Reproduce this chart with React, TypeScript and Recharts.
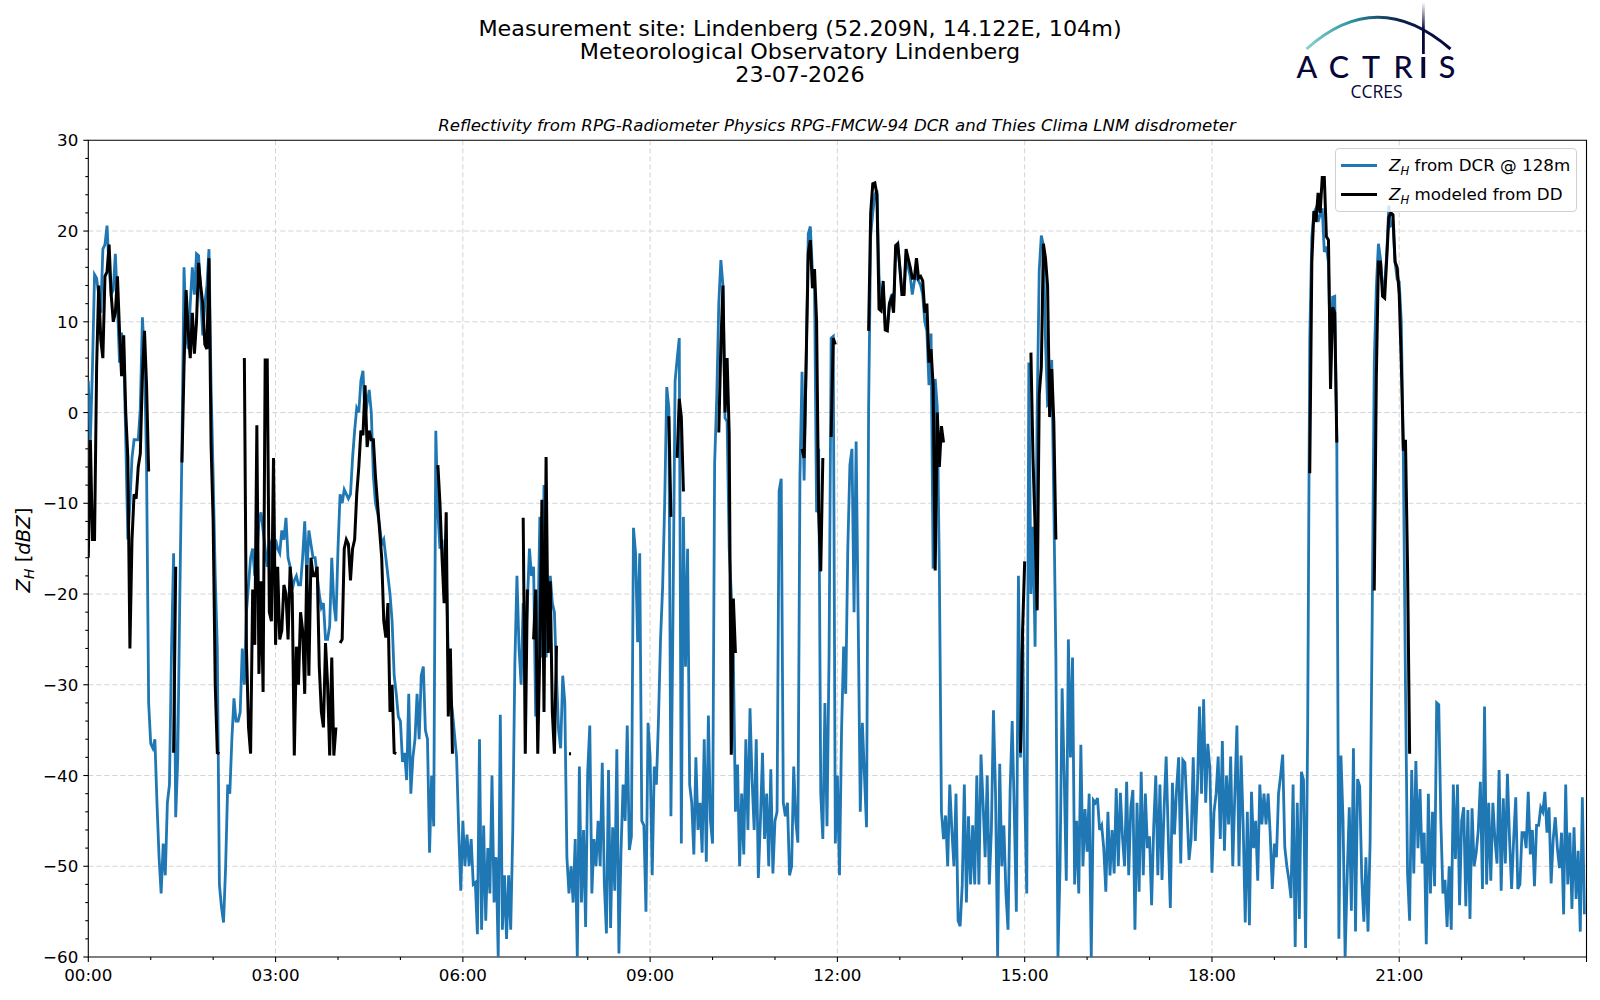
import React from "react";
import { CartesianGrid, Legend, Line, LineChart, ReferenceArea, XAxis, YAxis } from "recharts";

// Z_H from the cloud radar, one list per hour of the day, a value every 2 minutes
const dcr00 = [3.5, -3, 5, 15.2, 14.8, 13, 11, 18, 18.5, 20.6, 16, 13, 13.5, 17.5, 12, 5.5, 8.8, 7, -3, -14, -10, -5, -3, -3, -3, 0.5, 10.5, 6, -6, -32];
const dcr01 = [-36.5, -37, -36, -43, -49, -53, -47.5, -51, -43, -41, -26, -15.5, -44.6, -38, -20, -4, 16, 9, 7, 12, 16, 13, 17.5, 17.3, 13, 8.5, 12, 14, 18, 3];
const dcr02 = [-7, -18, -26, -52, -54.5, -56.2, -50, -41, -42, -36, -31.5, -34, -34, -33, -26, -30, -22, -19, -16, -15, -18, -16, -12, -11, -13, -15, -17, -14, -16, -18];
const dcr03 = [-14, -15, -15.5, -13, -14, -11.6, -16, -17, -19.5, -18.5, -18, -19, -19, -16, -12, -18, -13, -14.5, -16, -16, -18, -20, -21.5, -21, -25, -25, -23.5, -16, -21, -23];
const dcr04 = [-15, -9, -10, -8.5, -9, -9.5, -9, -5, -2, 0.5, 0, 3.5, 4.6, -0.5, 1, 2.5, 0, -7, -10, -11, -12.5, -14.5, -14, -16, -18, -20, -23, -29, -31, -33.5];
const dcr05 = [-34, -38.5, -37.5, -40.5, -31, -42, -38, -36, -31, -36, -29, -28, -35, -36, -48.5, -40, -45.6, -2, -11, -15, -14, -20, -17, -27, -31, -33, -35.5, -38, -46, -52.7];
const dcr06 = [-45, -50, -46.5, -50, -47, -52, -51.8, -57.5, -36, -57, -45.5, -56, -48, -53, -40, -54, -49, -60, -33.3, -57, -51, -58, -51, -57, -46, -27.6, -18, -26, -30, -21];
const dcr07 = [-26, -21, -15, -18, -17, -33.5, -25, -11.5, -27, -8, -27, -20, -18, -21, -22, -29, -35, -37, -29, -32, -49, -53, -50, -54, -47, -60, -39, -54, -46, -56.7];
const dcr08 = [-39.6, -34.5, -53, -47, -50, -45, -50, -38.6, -52, -57.4, -39.4, -56.8, -45.7, -52.7, -37.1, -59.6, -48.4, -41, -45, -34.5, -48.2, -46.7, -12.7, -15.5, -25.3, -15.5, -45, -45.5, -55, -34.2];
const dcr09 = [-38, -51, -39, -41, -34, -25, -19.3, -10, 2.8, 0.5, -44.5, -22, 3.5, 5.9, 8.2, -47.5, -11.5, -28, -15, -41, -43, -48.7, -38, -46, -43, -48.5, -36, -49.5, -33.4, -45];
const dcr10 = [-47.5, -5.6, 1.5, 12, 16.8, 14, -0.6, -1, -15, -20, -27, -44, -38.8, -50, -42, -48.7, -36, -46, -32.6, -40.5, -46, -36, -51.3, -45, -37.5, -47, -42, -50, -39.3, -50.8];
const dcr11 = [-45, -44, -8.6, -7.3, -43, -44.5, -43, -51, -50, -39, -45, -47.4, -7, 4.5, -7.5, 5.5, 19.7, 20.5, 15.5, 14, -11, -4, -42, -47, -32, -45.6, -26.6, 8.2, 8.4, -47.5];
const dcr12 = [-40, -51, -35, -25.8, -31, -15, -5.8, -4, -22, -3.2, -23, -44, -34.2, -40, -45.7, 0.5, 19.5, 22, 24, 24.5, 15, 12, 14, 9.5, 9.5, 12, 13, 11.5, 18, 18.5];
const dcr13 = [16, 13.5, 13, 17.5, 16, 15, 13, 14.5, 15, 14.5, 14, 13, 10, 9, 3, 8.7, -17.2, 3.7, 0.6, -17.7, -44, -47, -44.4, -50, -41, -46, -50, -42, -56, -56.6];
const dcr14 = [-52, -41, -54, -44.5, -52, -45.5, -52, -40, -52, -37.7, -43, -49, -40, -52, -46, -32.8, -42, -60, -38.7, -50, -45.5, -53, -57, -41.7, -34, -44, -55, -18, -38, -24];
const dcr15 = [-41.7, -53, 5.5, -20, -12.6, -25.8, 0, 15.7, 19.5, 18.4, 8, 0.8, 1, 5.8, -10, -27, -60, -50, -30.4, -40, -51.6, -25, -38, -27, -52, -45, -53, -36.6, -50, -43.7];
const dcr16 = [-48.4, -42, -60, -42.7, -43, -42.5, -46, -45.5, -48, -52.8, -44, -51, -46, -50.8, -41.4, -50, -41.9, -46.8, -50, -40.7, -51, -43.5, -41.6, -57, -43, -52.8, -39.6, -51, -42, -48];
const dcr17 = [-46.7, -54.3, -45.7, -40, -51, -41, -51.5, -43.6, -37.9, -46.7, -54.6, -40.8, -46.5, -41.5, -38, -49.7, -38.3, -38.6, -43.8, -49.3, -47, -38, -47.2, -41.5, -32.4, -42, -31.6, -43, -36.5, -39.2];
const dcr18 = [-50.7, -44, -42, -37.9, -47, -36.2, -48.3, -40, -45.4, -37.9, -50, -42, -34.5, -50, -37.8, -45.4, -56.2, -44, -56.5, -41.8, -48, -45, -51.6, -41, -45.4, -42, -45.4, -42, -46.5, -52.5];
const dcr19 = [-47.5, -49, -42, -40, -37.7, -47.9, -50, -51.5, -53.5, -41, -58.9, -43, -55.8, -39.6, -40.5, -59, -35, 8, 19.4, 22, 22.5, 21, 21.8, 22.5, 17.7, 18.3, 16.5, 5, 12.7, 12.8];
const dcr20 = [-3, -58, -37.8, -45, -60, -51, -43.5, -54.9, -37, -57.2, -40.4, -41.2, -51.3, -56.1, -49, -57.2, -47.4, -23, 5.4, 13.8, 18.6, 16.9, 13.8, 14, 17.5, 22.8, 20.6, 20.8, 16.6, 14.7];
const dcr21 = [14.4, 10, -5.3, -30, -50.8, -56, -39.4, -50.8, -38.4, -48, -41.5, -49.7, -46.3, -58.6, -42, -53, -44, -52.2, -32, -32.2, -45, -53, -51.5, -56.7, -50, -57, -41, -49.2, -41, -54.3];
const dcr22 = [-45, -43.5, -54.4, -43.8, -55.8, -43.6, -50, -48.5, -46, -40.7, -52.5, -32.4, -52, -43, -51.6, -43, -47, -49.7, -39.4, -52.7, -42.5, -49.7, -39.8, -46.9, -52.5, -47, -42.4, -52.5, -52, -46.3];
const dcr23 = [-46.3, -48, -41.8, -48.7, -46, -52.2, -45.5, -45.5, -43.5, -44, -41.8, -46.3, -43.5, -51.9, -47, -44.6, -48, -50.2, -46.3, -55.3, -41, -52, -46.3, -54.7, -45.7, -53.6, -48.3, -57.2, -42.4, -55.3];

// Z_H modeled from the disdrometer, same grid, null where it reports nothing
const _ = null;
const dd00 = [-16, -3, -14, -14, 5, 14, 8, 6, 15, 15.5, 18.5, 13, 10, 11, 15, 9, 4, 8.5, 0, -5, -26, -14, -9, -9.5, -6, -4.5, 4, 9, 3, -6.5];
const dd01 = [_, _, _, _, _, _, _, _, _, _, _, -37.5, -17, _, _, -5.5, 5, 13.5, 9, 6, 11, 6.5, 10, 16.5, 14, 12, 7.5, 7, 17, -3.5];
const dd02 = [-12, -30, -37.5, -37.6, _, _, _, _, _, _, _, _, _, _, _, 6, -26, -34.7, -37.6, -19.5, -25.6, -1.4, -28.8, -18.6, -30.8, 5.8, 5.8, -22, -23, -5];
const dd03 = [-25.6, -17, -25, -24, -19, -20, -25, -17, -20, -37.8, -25.8, -30, -22, -24, -31, -16.8, -29, -16, -18, -18, -17, -28, -33, -34.7, -25.4, -30, -37.8, -27, -37.8, -34.7];
const dd04 = [_, -25.4, -25, -15, -14, -14.5, -18.5, -15, -14, -9, -6, -2, -2.5, 3, -3.8, -2, -3, -3, -7, -10, -13, -16, -23, -24.8, -21, -33, -30, -37.5, -37.6, _];
const dd05 = [_, _, _, _, _, _, _, _, _, _, _, _, _, _, _, _, _, _, -5.8, -10, -16, -21, -11, -33.5, -26, -37.6, _, _, _, _];
const dd06 = [_, _, _, _, _, _, _, _, _, _, _, _, _, _, _, _, _, _, _, _, _, _, _, _, _, _, _, _, _, -11.6];
const dd07 = [-37.6, -19.5, _, _, -25, -19.5, -37.6, -26, -9.6, -33, -4.9, -26.5, -18.6, -33, -37.6, -25.7, _, _, _, _, _, -37.6, -37.6, _, _, _, _, _, _, _];
const dd09 = [_, _, _, _, _, _, _, _, _, -0.4, -11.5, _, _, -5, 1.5, -0.5, -8.7, _, _, _, _, _, _, _, _, _, _, _, _, _];
const dd10 = [_, _, _, -2.2, 7.5, 14, 0, 6, -2.4, -37.7, -20.5, -26.5, _, _, _, _, _, _, _, _, _, _, _, _, _, _, _, _, _, _];
const dd11 = [_, _, _, _, _, _, _, _, _, _, _, _, _, -4, -5, 5.8, 17.6, 19, 13.7, 15.8, 10, -11, -17.5, -5, _, _, _, -2.7, 8.2, 7.5];
const dd12 = [_, _, _, _, _, _, _, _, _, _, _, _, _, _, _, 9, 22, 25.2, 25.3, 24, 11.4, 11.2, 14.5, 9.1, 9, 12, 12.6, 11, 18.4, 18.6];
const dd13 = [16, 13, 13, 18, 17, 16, 14.8, 14.8, 17, 14.8, 15, 14.5, 11, 12, 5.5, 7, 3, -17.4, 0, -6, -1.5, -3.3, _, _, _, _, _, _, _, _];
const dd14 = [_, _, _, _, _, _, _, _, _, _, _, _, _, _, _, _, _, _, _, _, _, _, _, _, _, _, _, _, -37.5, -24];
const dd15 = [-16.4, _, _, 6.6, -5, -12.6, -21.8, 2, 5, 18.6, 17, 14, -0.5, 4.8, -1, -14, _, _, _, _, _, _, _, _, _, _, _, _, _, _];
const dd19 = [_, _, _, _, _, _, _, _, _, _, _, _, _, _, _, _, _, -6.7, 16.6, 22.2, 21, 24.2, 22, 25.9, 25.9, 19.4, 19, 2.6, 11.6, 11];
const dd20 = [-3.3, _, _, _, _, _, _, _, _, _, _, _, _, _, _, _, _, _, -19.6, 4, 16.6, 16.6, 12.8, 12.6, 17, 21.5, 22, 21.8, 16.6, 16];
const dd21 = [13, 5.4, -4.2, -3, -17, -37.6, _, _, _, _, _, _, _, _, _, _, _, _, _, _, _, _, _, _, _, _, _, _, _, _];

const dcrHours = [dcr00, dcr01, dcr02, dcr03, dcr04, dcr05, dcr06, dcr07, dcr08, dcr09, dcr10, dcr11, dcr12, dcr13, dcr14, dcr15, dcr16, dcr17, dcr18, dcr19, dcr20, dcr21, dcr22, dcr23];
const ddHours: Record<number, (number | null)[]> = { 0: dd00, 1: dd01, 2: dd02, 3: dd03, 4: dd04, 5: dd05, 6: dd06, 7: dd07, 9: dd09, 10: dd10, 11: dd11, 12: dd12, 13: dd13, 14: dd14, 15: dd15, 19: dd19, 20: dd20, 21: dd21 };

const hourTicks = [0, 1, 2, 3, 4, 5, 6, 7, 8, 9, 10, 11, 12, 13, 14, 15, 16, 17, 18, 19, 20, 21, 22, 23, 24];
const hourGrid = [3, 6, 9, 12, 15, 18, 21];
const dbzTicks = [-60, -58, -56, -54, -52, -50, -48, -46, -44, -42, -40, -38, -36, -34, -32, -30, -28, -26, -24, -22, -20, -18, -16, -14, -12, -10, -8, -6, -4, -2, 0, 2, 4, 6, 8, 10, 12, 14, 16, 18, 20, 22, 24, 26, 28, 30];
const dbzGrid = [-50, -40, -30, -20, -10, 0, 10, 20];

const titleLines = ["Measurement site: Lindenberg (52.209N, 14.122E, 104m)", "Meteorological Observatory Lindenberg", "23-07-2026"];
const subTitle = "Reflectivity from RPG-Radiometer Physics RPG-FMCW-94 DCR and Thies Clima LNM disdrometer";
const legendNames = [" from DCR @ 128m", " modeled from DD"];
const logoLetters = [["A", 1307], ["C", 1339], ["T", 1371], ["R", 1403], ["S", 1447]] as [string, number][];

const rows = dcrHours.flatMap((values, h) =>
  values.map((dcr, i) => ({ t: h + i / 30, dcr, dd: ddHours[h] ? ddHours[h][i] : null }))
);

const font = "'DejaVu Sans', sans-serif";
const W = 1600;
const H = 1000;

function HourTick({ x, y, payload }: any) {
  const h = payload.value;
  const major = h % 3 === 0;
  return (
    <g>
      <line x1={x} x2={x} y1={y} y2={y + (major ? 5 : 3)} stroke="#000" strokeWidth={1.1} />
      {major && h < 24 && (
        <text x={x} y={y + 24} textAnchor="middle" fontSize={16.7} fontFamily={font} fill="#000">
          {String(h).padStart(2, "0") + ":00"}
        </text>
      )}
    </g>
  );
}

function DbzTick({ x, y, payload }: any) {
  const v = payload.value;
  const major = v % 10 === 0;
  return (
    <g>
      <line x1={x} x2={x - (major ? 5 : 3)} y1={y} y2={y} stroke="#000" strokeWidth={1.1} />
      {major && (
        <text x={x - 10} y={y + 6} textAnchor="end" fontSize={16.7} fontFamily={font} fill="#000">
          {String(v).replace("-", "\u2212")}
        </text>
      )}
    </g>
  );
}

function LegendBox() {
  const colors = ["#1f77b4", "#000000"];
  return (
    <div style={{ width: 242, height: 64, boxSizing: "border-box", background: "rgba(255,255,255,0.8)", border: "1px solid #d0d0d0", borderRadius: 4, position: "relative" }}>
      {legendNames.map((name, i) => (
        <div key={name} style={{ position: "absolute", left: 5, top: 6 + i * 29, height: 20, display: "flex", alignItems: "center", whiteSpace: "nowrap", fontFamily: font, fontSize: 16.7, color: "#000" }}>
          <span style={{ display: "inline-block", width: 36, height: 3, background: colors[i], marginRight: 12 }} />
          <span>
            <i>Z</i>
            <i style={{ fontSize: 11.7, position: "relative", top: 4 }}>H</i>
            {name}
          </span>
        </div>
      ))}
    </div>
  );
}

function Logo() {
  return (
    <svg width={W} height={120} style={{ position: "absolute", left: 0, top: 0 }}>
      <defs>
        <linearGradient id="arc" x1="1306" x2="1451" y1="0" y2="0" gradientUnits="userSpaceOnUse">
          <stop offset="0" stopColor="#86d3cb" />
          <stop offset="0.3" stopColor="#2f96a4" />
          <stop offset="0.65" stopColor="#0b1f4d" />
          <stop offset="1" stopColor="#07073a" />
        </linearGradient>
        <linearGradient id="mast" x1="0" x2="0" y1="2" y2="30" gradientUnits="userSpaceOnUse">
          <stop offset="0" stopColor="#07073a" stopOpacity="0" />
          <stop offset="1" stopColor="#07073a" />
        </linearGradient>
      </defs>
      <path d="M1306.5 49 Q1377 -14.5 1450.5 49" fill="none" stroke="url(#arc)" strokeWidth={3} />
      <rect x={1422} y={2} width={2.8} height={52} fill="url(#mast)" />
      <rect x={1421.4} y={57} width={3.8} height={21} fill="#07073a" />
      {logoLetters.map(([ch, x]) => (
        <text key={ch} x={x} y={78} textAnchor="middle" fontSize={30.5} fontWeight={500} fontFamily="Lato" fill="#07073a">{ch}</text>
      ))}
      <text x={1376.5} y={98} textAnchor="middle" fontSize={17.5} fontFamily="'Open Sans'" fill="#07073a">CCRES</text>
    </svg>
  );
}

export default function App() {
  return (
    <div style={{ position: "absolute", left: 0, top: 0, width: W, height: H, background: "#fff", overflow: "hidden" }}>
      {titleLines.map((line, i) => (
        <div key={line} style={{ position: "absolute", left: 0, width: W, top: 15.7 + i * 23, lineHeight: "26px", textAlign: "center", fontFamily: font, fontSize: 20.8, color: "#000", transform: "scaleX(1.07)" }}>
          {line}
        </div>
      ))}
      <div style={{ position: "absolute", left: 88, width: 1498, top: 115, lineHeight: "22px", textAlign: "center", fontFamily: font, fontStyle: "italic", fontSize: 16.6, color: "#000" }}>
        {subTitle}
      </div>
      <Logo />
      <div style={{ position: "absolute", left: 0, top: 0 }}>
        <LineChart width={W} height={H} data={rows} margin={{ top: 140.3, right: 13.5, bottom: 0, left: 38.3 }}>
          <CartesianGrid stroke="#d3d3d3" strokeWidth={1} strokeDasharray="5 3" horizontalValues={dbzGrid} verticalValues={hourGrid} />
          <XAxis dataKey="t" type="number" domain={[0, 24]} ticks={hourTicks} interval={0} tick={HourTick} tickLine={false} axisLine={false} tickSize={0} tickMargin={0} height={43} allowDataOverflow />
          <YAxis type="number" domain={[-60, 30]} ticks={dbzTicks} interval={0} tick={DbzTick} tickLine={false} axisLine={false} tickSize={0} tickMargin={0} width={50} allowDataOverflow />
          <ReferenceArea x1={0} x2={24} y1={-60} y2={30} fill="none" stroke="#000" strokeWidth={1.1} />
          <Line dataKey="dcr" type="linear" stroke="#1f77b4" strokeWidth={2.8} dot={false} isAnimationActive={false} />
          <Line dataKey="dd" type="linear" stroke="#000000" strokeWidth={3} dot={false} connectNulls={false} isAnimationActive={false} />
          <Legend layout="vertical" align="center" verticalAlign="middle" wrapperStyle={{ left: 1335, top: 148, width: 242, height: 64 }} content={LegendBox} />
        </LineChart>
      </div>
      <div style={{ position: "absolute", left: 23, top: 550, transform: "translate(-50%,-50%) rotate(-90deg)", whiteSpace: "nowrap", fontFamily: font, fontSize: 19.7, color: "#000" }}>
        <i>Z</i>
        <i style={{ fontSize: 13.8, position: "relative", top: 4 }}>H</i> [<i>dBZ</i>]
      </div>
    </div>
  );
}
